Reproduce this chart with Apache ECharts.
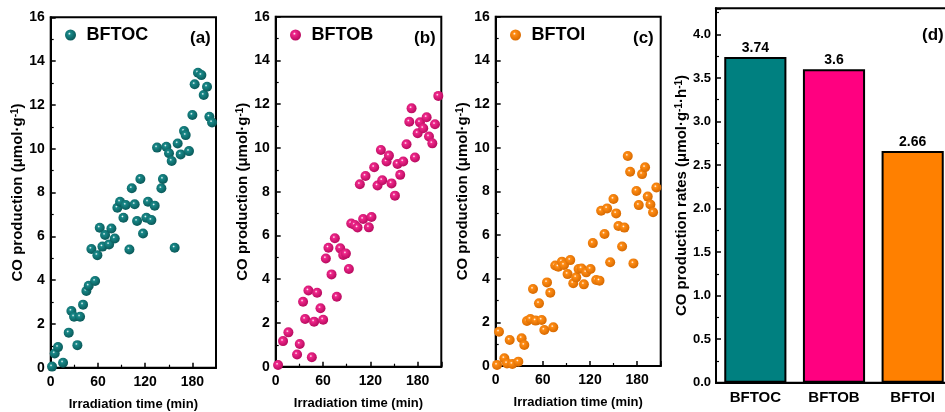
<!DOCTYPE html>
<html>
<head>
<meta charset="utf-8">
<script src="https://cdn.jsdelivr.net/npm/echarts@6/dist/echarts.min.js"></script>
<style>
  html, body { margin: 0; padding: 0; background: #fff; }
  #main { width: 945px; height: 412px; }
</style>
</head>
<body>
<div id="main"></div>
<script>
  // CO production vs irradiation time, [min, umol/g]
  var bftoc = [[1.7,0.05],[5.1,0.65],[9.3,0.94],[15.7,0.23],[22.9,1.6],[26.3,2.59],[29.7,2.33],[33.9,1.03],[37.3,2.33],[41.1,2.88],
    [45.3,3.5],[48.3,3.74],[51.7,5.42],[56.4,3.96],[59.3,5.14],[62.3,6.39],[65.7,5.53],[69.1,6.06],[74.2,5.63],[77.1,6.36],
    [81.4,5.9],[84.7,7.3],[88.1,7.58],[92.4,6.85],[95.3,7.43],[100,5.4],[103,8.19],[106.7,7.46],[109.7,6.7],[113.9,8.62],
    [117.3,6.13],[121.5,6.85],[123.6,7.58],[127.9,6.74],[132.1,7.4],[135.1,10.05],[140.6,8.19],[142.6,8.62],[146.9,10.09],[150.3,9.79],
    [153.7,9.44],[157.5,5.48],[161.3,10.24],[165.1,9.74],[169.4,10.81],[171.5,10.62],[175.7,9.89],[180,11.54],[182.9,12.94],[187.1,13.47],
    [191.4,13.36],[194.4,12.45],[198.6,12.83],[201.6,11.46],[205,11.2]];
  var bftob = [[3,0.08],[9.3,1.17],[16.1,1.57],[27.1,0.56],[30.5,1.04],[34.7,2.97],[37.3,2.18],[41.5,3.48],[45.8,0.43],[48.7,2.06],
    [52.5,3.38],[56.8,2.67],[60.2,2.15],[63.6,4.95],[66.9,5.44],[70.8,4.22],[75,5.87],[77.5,3.2],[81.8,5.41],[85.6,5.11],
    [89,5.17],[92.8,4.47],[95.8,6.55],[100.4,6.48],[103.8,6.36],[106.7,8.34],[110.9,6.75],[113.9,8.72],[118.1,6.37],[121.5,6.84],
    [124.9,9.12],[129.1,8.28],[133.4,9.91],[135.1,8.52],[140.6,9.38],[143.6,9.65],[146.9,8.38],[151.2,7.82],[154.5,9.27],[157.9,8.77],
    [161.7,9.38],[165.9,10.17],[169.4,11.2],[172.3,11.81],[176.6,9.56],[180,10.67],[182.9,11.17],[187.1,10.9],[191.4,11.4],[194.4,10.52],
    [198.6,10.21],[202,11.08],[206.2,12.38]];
  var bftoi = [[1.7,0.05],[4.2,1.57],[11,0.35],[14.4,0.12],[17.8,1.19],[21.2,0.09],[28.8,0.2],[33,1.27],[36.4,0.96],[39.8,2.06],
    [44.1,2.15],[47.5,3.53],[50.8,2.08],[55.1,2.87],[58.5,2.11],[61.9,1.65],[65.3,3.83],[69.5,3.36],[73.3,1.77],[75.8,4.6],
    [79.7,4.55],[84.3,4.78],[86.9,4.63],[91.5,4.21],[94.9,4.85],[98.7,3.79],[102.5,4.06],[105.5,4.44],[109.3,4.47],[112.2,3.74],
    [115.2,4.29],[120.7,4.44],[123.6,5.63],[127.9,3.94],[132.1,3.91],[134.2,7.11],[138.5,6.05],[141.8,7.22],[145.7,4.75],[149.9,7.65],
    [153.3,6.99],[156.2,6.41],[160.9,5.47],[163.8,6.34],[168.1,9.62],[171.1,8.9],[175.3,4.7],[179.1,8.02],[182.1,7.37],[186.3,8.79],
    [190.1,9.1],[193.5,7.76],[196.9,7.4],[200.3,7.04],[204.5,8.18]];

  // panel (d) rates
  var samples = ['BFTOC', 'BFTOB', 'BFTOI'];
  var rates = [3.74, 3.6, 2.66];

  var font = 'Liberation Sans, Arial, sans-serif';
  var barColors = ['#008080', '#FF0080', '#FF8000'];

  // little shaded ball like the origin plot
  function ball(base, dark) {
    return {
      type: 'radial', x: 0.4, y: 0.38, r: 0.62,
      colorStops: [
        {offset: 0, color: '#ffffff'},
        {offset: 0.22, color: base},
        {offset: 1, color: dark}
      ]
    };
  }

  var grids = [
    {left: 50.7, width: 165.3, top: 17.3, height: 350.4},
    {left: 275.7, width: 165.6, top: 16.7, height: 350},
    {left: 495.7, width: 165, top: 16.7, height: 349.3},
    {left: 716, width: 236, top: 8.3, height: 374.4}
  ];
  grids.forEach(function (g) {
    g.show = true;
    g.borderColor = '#000';
    g.borderWidth = 2;
    g.containLabel = false;
    g.outerBoundsMode = 'none';  // v6 would squeeze the grids otherwise
  });

  var tick = {show: true, inside: true, length: 5, lineStyle: {color: '#000', width: 1.5}};
  var minor = {show: true, splitNumber: 2, length: 3, lineStyle: {color: '#000', width: 1.2}};
  var supStyle = {fontFamily: font, fontWeight: 'bold', fontSize: 10, verticalAlign: 'top', color: '#000'};

  function timeAxis(i) {
    return {
      type: 'value', gridIndex: i, min: 0, max: 210, interval: 60,
      name: 'Irradiation time (min)', nameLocation: 'middle', nameGap: 30,
      nameTextStyle: {fontFamily: font, fontWeight: 'bold', fontSize: 13, color: '#000'},
      axisLine: {show: true, lineStyle: {color: '#000', width: 2}},
      axisTick: tick, minorTick: minor,
      axisLabel: {fontFamily: font, fontWeight: 'bold', fontSize: 14, color: '#000', margin: 7, showMaxLabel: false},
      splitLine: {show: false}
    };
  }
  function coAxis(i) {
    return {
      type: 'value', gridIndex: i, min: 0, max: 16, interval: 2,
      name: 'CO production (μmol·g{sup|-1})', nameLocation: 'middle', nameGap: 25,
      nameTextStyle: {fontFamily: font, fontWeight: 'bold', fontSize: 15, color: '#000', rich: {sup: supStyle}},
      axisLine: {show: true, lineStyle: {color: '#000', width: 2}},
      axisTick: tick, minorTick: minor,
      axisLabel: {fontFamily: font, fontWeight: 'bold', fontSize: 14, color: '#000', margin: 6},
      splitLine: {show: false}
    };
  }

  var xAxes = [timeAxis(0), timeAxis(1), timeAxis(2), {
    type: 'category', gridIndex: 3, data: samples,
    axisLine: {show: true, lineStyle: {color: '#000', width: 2}},
    axisTick: {show: false},
    axisLabel: {fontFamily: font, fontWeight: 'bold', fontSize: 15, color: '#000', margin: 8}
  }];
  var yAxes = [coAxis(0), coAxis(1), coAxis(2), {
    type: 'value', gridIndex: 3, min: 0, max: 4.3, interval: 0.5,
    name: 'CO production rates (μmol·g{sup|-1}·h{sup|-1})', nameLocation: 'middle', nameGap: 22,
    nameTextStyle: {fontFamily: font, fontWeight: 'bold', fontSize: 15, color: '#000', rich: {sup: supStyle}},
    axisLine: {show: true, lineStyle: {color: '#000', width: 2}},
    axisTick: tick, minorTick: minor,
    axisLabel: {fontFamily: font, fontWeight: 'bold', fontSize: 13, color: '#000', margin: 5,
      showMaxLabel: false, formatter: function (v) { return v.toFixed(1); }},
    splitLine: {show: false}
  }];

  var scatterSets = [
    {name: 'BFTOC', data: bftoc, color: ball('#188888', '#0a5a5a')},
    {name: 'BFTOB', data: bftob, color: ball('#f0288c', '#b80a5e')},
    {name: 'BFTOI', data: bftoi, color: ball('#ff8c14', '#d86a00')}
  ];
  var series = scatterSets.map(function (s, i) {
    return {
      name: s.name, type: 'scatter', xAxisIndex: i, yAxisIndex: i,
      data: s.data, symbolSize: 10,
      itemStyle: {color: s.color, opacity: 1}
    };
  });
  series.push({
    name: 'rates', type: 'bar', xAxisIndex: 3, yAxisIndex: 3, barWidth: '79%',
    data: rates.map(function (v, i) {
      return {value: v, itemStyle: {color: barColors[i]}};
    }),
    itemStyle: {borderColor: '#000', borderWidth: 2},
    label: {show: true, position: 'top', distance: 2, fontFamily: font, fontWeight: 'bold', fontSize: 14, color: '#000'}
  });

  var legendLefts = [65, 290, 510];
  var legends = scatterSets.map(function (s, i) {
    return {
      data: [s.name], left: legendLefts[i], top: 26, padding: 0, icon: 'circle',
      itemWidth: 22, itemHeight: 11,
      textStyle: {fontFamily: font, fontWeight: 'bold', fontSize: 18, color: '#000'}
    };
  });

  var panelTags = [['(a)', 185], ['(b)', 409], ['(c)', 628], ['(d)', 917]];
  var titles = panelTags.map(function (p, i) {
    return {text: p[0], left: p[1], top: i == 3 ? 22 : 25,
      textStyle: {fontFamily: font, fontWeight: 'bold', fontSize: 17, color: '#000'}};
  });

  var chart = echarts.init(document.getElementById('main'));
  chart.setOption({
    animation: false,
    backgroundColor: '#fff',
    title: titles,
    legend: legends,
    grid: grids,
    xAxis: xAxes,
    yAxis: yAxes,
    series: series
  });
</script>
</body>
</html>
